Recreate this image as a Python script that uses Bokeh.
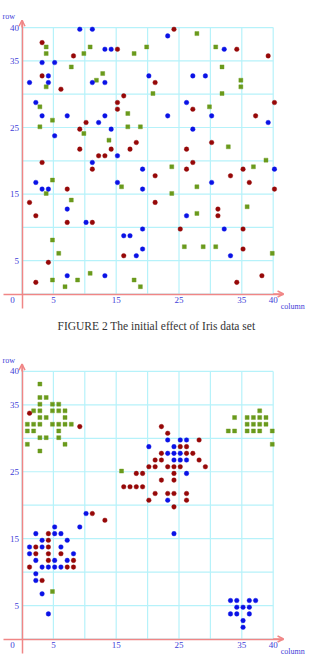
from bokeh.plotting import figure
from bokeh.models import (ColumnDataSource, FixedTicker, LinearAxis, Arrow,
                          OpenHead, Range1d, Label)
from bokeh.layouts import column
from bokeh.transform import dodge
from bokeh.embed import file_html
from bokeh.resources import INLINE

# ---- data: Iris samples mapped onto a 40 x 40 (column, row) grid ----
# initial random placement
init_red_col = [3, 8, 15, 3, 6, 21, 16, 15, 15, 10, 9, 18, 9, 14, 17, 24, 34, 39, 27, 40, 37, 26, 30,
                12, 13, 3, 11, 21, 7, 1, 21, 2, 7, 11, 16, 4, 2, 27, 26, 35, 33, 36, 40, 31, 31, 25, 35, 35, 38, 34]
init_red_row = [38, 36, 37, 33, 31, 32, 30, 29, 28, 26, 25, 23, 22, 22, 22, 40, 37, 36, 28, 29, 27, 22, 23,
                21, 21, 20, 19, 18, 16, 14, 14, 12, 11, 11, 6, 5, 2, 20, 19, 19, 18, 17, 16, 13, 12, 10, 10, 7, 3, 2]

init_blue_col = [9, 11, 13, 14, 3, 5, 4, 1, 4, 11, 13, 20, 2, 3, 7, 13, 12, 14, 5, 23, 32, 27, 29, 26, 23, 30, 39, 27,
                 15, 11, 19, 2, 3, 4, 15, 19, 7, 10, 19, 16, 17, 19, 18, 7, 13, 40, 30, 26, 32, 33]
init_blue_row = [40, 40, 37, 37, 35, 35, 33, 32, 32, 32, 32, 33, 29, 27, 27, 27, 26, 25, 24, 39, 37, 33, 33, 29, 27, 27, 26, 25,
                 21, 20, 19, 17, 16, 16, 17, 16, 13, 11, 10, 9, 9, 7, 6, 3, 3, 19, 17, 12, 10, 6]

init_green_col = [4, 4, 10, 11, 8, 13, 12, 4, 3, 5, 17, 3, 17, 19, 10, 14, 18, 20, 21, 28, 31, 32, 35, 35, 32, 30, 33,
                  5, 4, 16, 8, 5, 6, 11, 5, 9, 7, 18, 19, 39, 37, 24, 28, 24, 36, 28, 26, 29, 31, 40]
init_green_row = [37, 36, 36, 37, 34, 33, 32, 31, 28, 26, 27, 25, 25, 25, 24, 23, 36, 37, 30, 39, 37, 34, 32, 31, 30, 28, 22,
                  17, 15, 16, 14, 8, 6, 3, 2, 2, 1, 2, 1, 20, 19, 19, 16, 15, 13, 12, 7, 7, 7, 6]

# placement after clustering
final_red_col = [9, 1, 22, 23, 28, 25, 26, 22, 26, 27, 21, 22, 28, 20, 21, 23, 24, 25, 29, 18, 19, 24, 22, 24, 16,
                 17, 18, 19, 21, 23, 24, 26, 20, 26, 24, 11, 13, 4, 4, 2, 4, 2, 4, 6, 4, 8, 1, 7, 8, 3]
final_red_row = [32, 34, 32, 31, 30, 29, 29, 28, 28, 28, 27, 27, 27, 26, 26, 26, 26, 26, 26, 25, 25, 25, 24, 24, 23,
                 23, 23, 23, 22, 22, 22, 22, 21, 21, 20, 19, 18, 16, 15, 14, 14, 13, 13, 13, 12, 12, 11, 11, 11, 9]

final_blue_col = [23, 25, 26, 20, 24, 23, 24, 25, 24, 25, 26, 26, 23, 24, 10, 5, 9, 2, 5, 6, 3, 7, 1, 3, 6,
                  1, 8, 2, 5, 7, 3, 4, 5, 6, 2, 2, 3, 4, 33, 34, 36, 37, 34, 35, 36, 33, 34, 36, 35, 35]
final_blue_row = [30, 30, 30, 29, 29, 28, 28, 28, 27, 27, 27, 25, 21, 16, 19, 17, 17, 16, 16, 16, 15, 15, 14, 14, 14,
                  13, 13, 12, 12, 12, 11, 11, 11, 11, 10, 9, 7, 4, 6, 6, 6, 6, 5, 5, 5, 4, 4, 4, 3, 2]

final_green_col = [3, 3, 4, 3, 5, 6, 2, 3, 5, 6, 7, 3, 4, 7, 1, 2, 3, 5, 6, 7, 8, 1, 2, 6, 3, 4, 6, 1, 7, 3,
                   38, 34, 36, 37, 38, 39, 36, 37, 38, 39, 33, 34, 36, 37, 38, 40, 40, 16, 5]
final_green_row = [38, 36, 36, 35, 35, 35, 34, 34, 34, 34, 34, 33, 33, 33, 32, 32, 32, 32, 32, 32, 32, 31, 31, 31, 30, 30, 30, 29, 29, 28,
                   34, 33, 33, 33, 33, 33, 32, 32, 32, 32, 31, 31, 31, 31, 31, 31, 29, 25, 7]

# axes / grid
grid_lines = [0, 5, 10, 15, 20, 25, 30, 35, 40]
x_ticks = [-1.5, 5, 15, 25, 35, 40]
x_tick_labels = ["0", "5", "15", "25", "35", "40"]
y_ticks = [5, 15, 25, 35, 40]
caption = "FIGURE 2 The initial effect of Iris data set"

# ---- styling ----
AXIS = "#f08686"
GRID = "#b6f2fa"
TICK = "#4040d8"
RED = "#960808"
BLUE = "#0a12e6"
GREEN = "#6a9a1c"
W = 313
X0_PX, UX = 21.5, 6.28          # pixel of column 0, pixels per column


def panel(height, y0_px, uy, red, blue, green, with_caption=False):
    p = figure(width=W, height=height,
               x_range=Range1d(-X0_PX / UX, (W - X0_PX) / UX),
               y_range=Range1d(-(height - y0_px) / uy, y0_px / uy),
               output_backend="svg", toolbar_location=None,
               x_axis_location=None, y_axis_location=None,
               min_border=0, outline_line_color=None, title=None,
               background_fill_color="white", border_fill_color="white")

    # grid, bounded to the 0..40 square
    n = len(grid_lines)
    p.segment(x0=grid_lines, x1=grid_lines, y0=[0] * n, y1=[40] * n,
              line_color=GRID, line_width=1.2)
    p.segment(x0=[0] * n, x1=[40] * n, y0=grid_lines, y1=grid_lines,
              line_color=GRID, line_width=1.2)

    common = dict(axis_line_color=AXIS, axis_line_width=1.5,
                  major_tick_in=0, major_tick_out=0, minor_tick_in=0, minor_tick_out=0,
                  major_label_text_font="Liberation Serif",
                  major_label_text_font_size="9px",
                  major_label_text_color=TICK, major_label_standoff=3)
    xax = LinearAxis(fixed_location=0, ticker=FixedTicker(ticks=x_ticks),
                     bounds=(-2.9, 41.6),
                     major_label_overrides={t: s for t, s in zip(x_ticks, x_tick_labels)},
                     **common)
    yax = LinearAxis(fixed_location=0, ticker=FixedTicker(ticks=y_ticks),
                     bounds=(-2.2, 41.1), **common)
    p.add_layout(xax, "below")
    p.add_layout(yax, "left")

    p.add_layout(Arrow(end=OpenHead(size=6, line_color=AXIS, line_width=1.5),
                       x_start=40, y_start=0, x_end=41.65, y_end=0,
                       line_color=AXIS, line_width=1.5))
    p.add_layout(Arrow(end=OpenHead(size=6, line_color=AXIS, line_width=1.5),
                       x_start=0, y_start=40, x_end=0, y_end=41.1,
                       line_color=AXIS, line_width=1.5))

    p.add_layout(Label(x=-2.1, y=41.6, text="row", text_align="center",
                       text_baseline="middle", text_font="Liberation Serif",
                       text_font_size="8px", text_color=TICK))
    p.add_layout(Label(x=41.2, y=-1.85, text="column", text_align="left",
                       text_baseline="middle", text_font="Liberation Serif",
                       text_font_size="8px", text_color=TICK))

    for (cols, rows), color, marker, size, dx, dy in (
            (green, GREEN, "square", 4.0, -0.15, 0.1),
            (red, RED, "circle", 4.6, 0.2, -0.25),
            (blue, BLUE, "circle", 4.6, 0.2, -0.25)):
        src = ColumnDataSource(dict(x=cols, y=rows))
        p.scatter(x=dodge("x", dx), y=dodge("y", dy), source=src, marker=marker,
                  size=size, fill_color=color, line_color=color, line_width=0.4)

    if with_caption:
        p.add_layout(Label(x=21.4, y=-(325 - y0_px) / uy, text=caption,
                           text_align="center", text_baseline="middle",
                           text_font="Liberation Serif", text_font_size="11.5px",
                           text_color="#333333"))
    p.grid.visible = False
    return p


top = panel(335, 293.5, 6.66,
            (init_red_col, init_red_row), (init_blue_col, init_blue_row),
            (init_green_col, init_green_row), with_caption=True)
bottom = panel(324, 303.5, 6.69,
               (final_red_col, final_red_row), (final_blue_col, final_blue_row),
               (final_green_col, final_green_row))

layout = column(top, bottom, spacing=0)
open("out.html", "w").write(file_html(layout, INLINE))
